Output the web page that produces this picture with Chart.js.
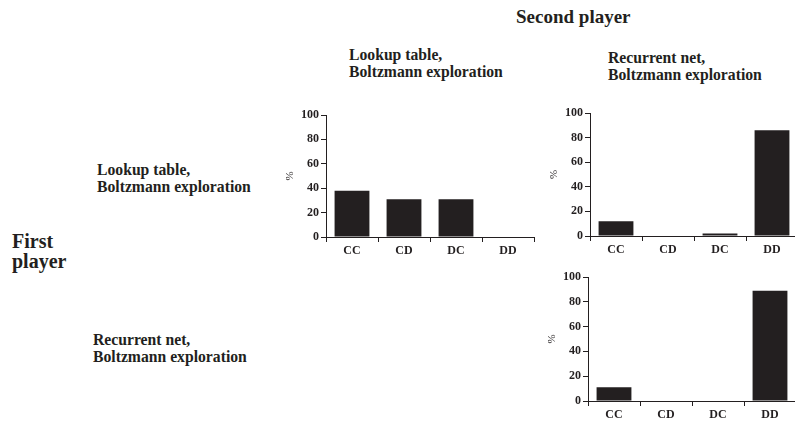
<!DOCTYPE html>
<html>
<head>
<meta charset="utf-8">
<script src="https://cdn.jsdelivr.net/npm/chart.js@4"></script>
<style>
  html, body { margin: 0; padding: 0; background: #fff; overflow: hidden; }
  body { width: 795px; height: 421px; position: relative; font-family: "Liberation Serif", "Times New Roman", Times, "DejaVu Serif", serif; font-weight: bold; color: #231f20; }
  .t { position: absolute; font-size: 15.7px; line-height: 17px; white-space: nowrap; }
  .big { position: absolute; white-space: nowrap; }
  .box { position: absolute; }
</style>
</head>
<body>
<div class="big" style="left:516px; top:7px; font-size:19px; line-height:19px;">Second player</div>
<div class="t" style="left:349px; top:46px;">Lookup table,<br>Boltzmann exploration</div>
<div class="t" style="left:608px; top:49px;">Recurrent net,<br>Boltzmann exploration</div>
<div class="t" style="left:97px; top:161px;">Lookup table,<br>Boltzmann exploration</div>
<div class="t" style="left:93px; top:331px;">Recurrent net,<br>Boltzmann exploration</div>
<div class="big" style="left:12px; top:231px; font-size:20px; line-height:20px;">First<br>player</div>

<div class="box" style="left:281px; top:100px; width:259px; height:160px;"><canvas id="c1"></canvas></div>
<div class="box" style="left:545px; top:98px; width:259px; height:161px;"><canvas id="c2"></canvas></div>
<div class="box" style="left:543px; top:262px; width:259px; height:162px;"><canvas id="c3"></canvas></div>

<script>
var outcomes = ['CC', 'CD', 'DC', 'DD'];
var yTicks = [0, 20, 40, 60, 80, 100];
var lookupVsLookup = [38, 31, 31, 0];
var lookupVsRecurrent = [12, 0, 2, 86];
var recurrentVsRecurrent = [11, 0, 0, 89];

var ink = '#231f20';
var serif = '"Liberation Serif", "Times New Roman", Times, "DejaVu Serif", serif';

function makeChart(id, values) {
  var ctx = document.getElementById(id).getContext('2d');
  return new Chart(ctx, {
    type: 'bar',
    data: {
      labels: outcomes,
      datasets: [{
        data: values,
        backgroundColor: ink,
        borderWidth: 0,
        barPercentage: 0.67,
        categoryPercentage: 1
      }]
    },
    options: {
      responsive: true,
      maintainAspectRatio: false,
      animation: false,
      layout: { padding: { top: 15, right: 6, bottom: 0, left: 0 } },
      plugins: { legend: { display: false }, tooltip: { enabled: false } },
      scales: {
        x: {
          grid: { offset: true, drawOnChartArea: false, tickLength: 5, color: ink, lineWidth: 1 },
          border: { color: ink, width: 1 },
          ticks: { color: ink, padding: 2, font: { family: serif, weight: 'bold', size: 12 } },
          afterFit: function (s) { s.height = 23; }
        },
        y: {
          min: 0,
          max: 100,
          afterBuildTicks: function (s) { s.ticks = yTicks.map(function (v) { return { value: v }; }); },
          grid: { drawOnChartArea: false, tickLength: 5, color: ink, lineWidth: 1 },
          border: { color: ink, width: 1 },
          ticks: { color: ink, padding: 2, font: { family: serif, weight: 'bold', size: 12 } },
          title: { display: true, text: '%', color: ink, padding: { top: 3, bottom: 0 }, font: { family: serif, size: 11 } },
          afterFit: function (s) { s.width = 45; }
        }
      }
    }
  });
}

makeChart('c1', lookupVsLookup);
makeChart('c2', lookupVsRecurrent);
makeChart('c3', recurrentVsRecurrent);
</script>
</body>
</html>
